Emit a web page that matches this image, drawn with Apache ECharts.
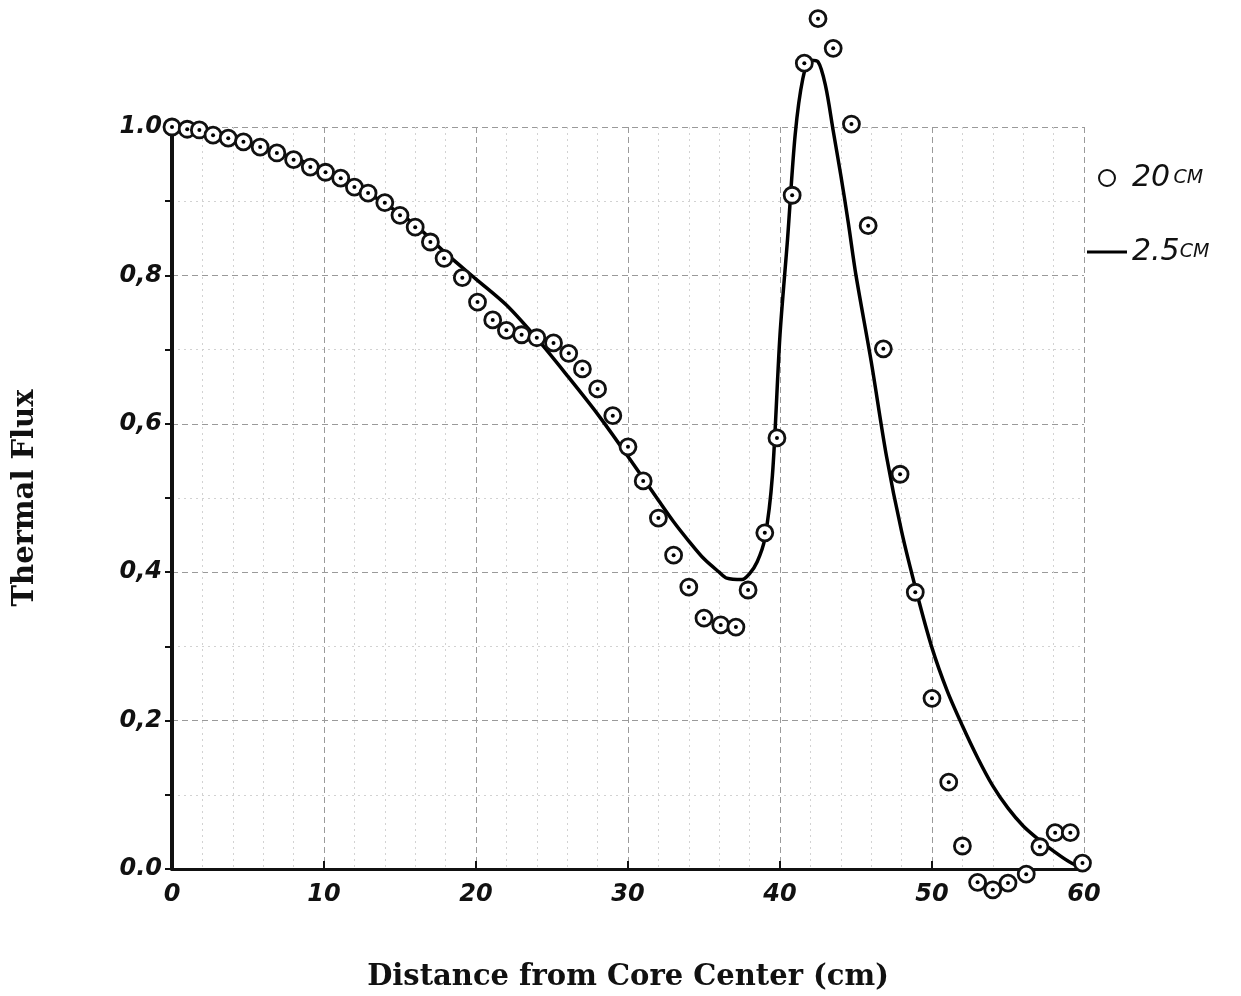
<!DOCTYPE html>
<html>
<head>
<meta charset="utf-8">
<script src="https://cdn.jsdelivr.net/npm/echarts@6/dist/echarts.min.js"></script>
<style>
  html, body { margin: 0; padding: 0; background: #fff; }
  #main { width: 1241px; height: 996px; }
</style>
</head>
<body>
<div id="main"></div>
<script>
// 20 cm mesh (circles)
var meshX20 = [0, 1, 1.8, 2.7, 3.7, 4.7, 5.8, 6.9, 8.0, 9.1, 10.1, 11.1, 12.0, 12.9, 14.0, 15.0, 16.0, 17.0, 17.9, 19.1,
  20.1, 21.1, 22.0, 23.0, 24.0, 25.1, 26.1, 27.0, 28.0, 29.0, 30.0, 31.0, 32.0, 33.0, 34.0, 35.0, 36.1, 37.1, 37.9, 39.0,
  39.8, 40.8, 41.6, 42.5, 43.5, 44.7, 45.8, 46.8, 47.9, 48.9, 50.0, 51.1, 52.0, 53.0, 54.0, 55.0, 56.2, 57.1, 58.1, 59.1, 59.9];
var fluxY20 = [1.0, 0.997, 0.996, 0.989, 0.985, 0.98, 0.973, 0.965, 0.956, 0.946, 0.939, 0.931, 0.919, 0.911, 0.898, 0.881, 0.865, 0.845, 0.823, 0.797,
  0.764, 0.740, 0.726, 0.720, 0.716, 0.709, 0.695, 0.674, 0.647, 0.611, 0.569, 0.523, 0.473, 0.423, 0.380, 0.338, 0.329, 0.326, 0.376, 0.453,
  0.581, 0.908, 1.086, 1.146, 1.106, 1.004, 0.867, 0.701, 0.532, 0.373, 0.230, 0.117, 0.031, -0.018, -0.028, -0.019, -0.007, 0.030, 0.049, 0.049, 0.008];

// 2.5 cm mesh (solid curve)
var meshX25 = [0, 2, 4, 6, 8, 10, 12, 14, 16, 18, 20, 22, 24, 26, 28, 30, 32, 33, 34, 35, 36, 36.5, 37.5, 38, 38.5, 39, 39.5,
  40, 40.5, 41, 41.5, 42, 42.5, 43, 43.5, 44, 44.5, 45, 46, 47, 48, 49, 50, 51, 52, 53, 54, 55, 56, 57, 58, 59, 60];
var fluxY25 = [1.0, 0.995, 0.985, 0.972, 0.958, 0.943, 0.922, 0.897, 0.868, 0.830, 0.795, 0.760, 0.715, 0.665, 0.613, 0.556, 0.497, 0.468, 0.442, 0.418, 0.400, 0.392, 0.390, 0.398, 0.414, 0.445, 0.53,
  0.72, 0.85, 0.99, 1.065, 1.09, 1.088, 1.055, 0.995, 0.935, 0.87, 0.80, 0.684, 0.557, 0.455, 0.372, 0.298, 0.240, 0.193, 0.150, 0.112, 0.082, 0.058, 0.040, 0.024, 0.010, 0.0];

var xTicks = [0, 10, 20, 30, 40, 50, 60];
var yTicks = ['0.0', '0,2', '0,4', '0,6', '0,8', '1.0'];

function pairs(xs, ys) {
  return xs.map(function (x, i) { return [x, ys[i]]; });
}

var chart = echarts.init(document.getElementById('main'));
var handFont = '"DejaVu Sans", sans-serif';
var titleFont = '"DejaVu Serif", serif';
var option = {
  backgroundColor: '#fff',
  animation: false,
  grid: { left: 172, right: 157, top: 127, bottom: 127, outerBoundsMode: 'none' },
  legend: {
    orient: 'vertical',
    left: 1082,
    top: 158,
    itemGap: 44,
    itemWidth: 40,
    itemHeight: 16,
    data: [
      { name: '20 cm', icon: 'circle', itemStyle: { color: '#fff', borderColor: '#111', borderWidth: 2 } },
      { name: '2.5 cm', icon: 'path://M0,7 L40,7 L40,10 L0,10 Z' }
    ],
    formatter: function (name) {
      return name === '20 cm' ? '{n|20} {u|CM}' : '{n|2.5}{u|CM}';
    },
    textStyle: {
      color: '#111',
      rich: {
        n: { fontFamily: handFont, fontStyle: 'italic', fontSize: 30, fontWeight: 300 },
        u: { fontFamily: handFont, fontStyle: 'italic', fontSize: 19, fontWeight: 300 }
      }
    }
  },
  xAxis: {
    type: 'value',
    min: 0,
    max: 60,
    interval: 10,
    name: 'Distance from Core Center (cm)',
    nameLocation: 'middle',
    nameGap: 94,
    nameTextStyle: { fontFamily: titleFont, fontWeight: 'bold', fontSize: 29, color: '#111' },
    axisLine: { show: true, lineStyle: { color: '#111', width: 3 } },
    axisTick: { show: true, inside: true, length: 8, lineStyle: { color: '#111', width: 2 } },
    axisLabel: {
      margin: 14,
      fontFamily: handFont, fontStyle: 'italic', fontWeight: 'bold', fontSize: 24, color: '#111',
      formatter: function (v) { return xTicks.indexOf(v) >= 0 ? String(v) : ''; }
    },
    splitLine: { show: true, lineStyle: { color: '#9a9a9a', type: [6, 4], width: 1 } },
    minorTick: { show: false, splitNumber: 5 },
    minorSplitLine: { show: true, lineStyle: { color: '#d2d2d2', type: [2, 4], width: 1 } }
  },
  yAxis: {
    type: 'value',
    min: 0,
    max: 1.0,
    interval: 0.2,
    name: 'Thermal Flux',
    nameLocation: 'middle',
    nameGap: 132,
    nameRotate: 90,
    nameTextStyle: { fontFamily: titleFont, fontWeight: 'bold', fontSize: 29, color: '#111' },
    axisLine: { show: true, lineStyle: { color: '#111', width: 4 } },
    axisTick: { show: true, length: 7, lineStyle: { color: '#111', width: 2 } },
    minorTick: { show: true, splitNumber: 2, length: 7, lineStyle: { color: '#111', width: 2 } },
    axisLabel: {
      margin: 10,
      fontFamily: handFont, fontStyle: 'italic', fontWeight: 'bold', fontSize: 24, color: '#111',
      formatter: function (v) { return yTicks[Math.round(v / 0.2)]; }
    },
    splitLine: { show: true, lineStyle: { color: '#9a9a9a', type: [6, 4], width: 1 } },
    minorSplitLine: { show: true, lineStyle: { color: '#d2d2d2', type: [2, 4], width: 1 } }
  },
  series: [
    {
      name: '2.5 cm',
      type: 'line',
      data: pairs(meshX25, fluxY25),
      smooth: 0.3,
      showSymbol: false,
      clip: false,
      lineStyle: { color: '#000', width: 3.5 },
      itemStyle: { color: '#000' },
      z: 3
    },
    {
      name: '20 cm',
      type: 'scatter',
      data: pairs(meshX20, fluxY20),
      symbol: 'circle',
      symbolSize: 16,
      clip: false,
      itemStyle: { color: '#fff', borderColor: '#111', borderWidth: 2.8, opacity: 1 },
      z: 4
    },
    {
      name: '20 cm dot',
      type: 'scatter',
      data: pairs(meshX20, fluxY20),
      symbol: 'circle',
      symbolSize: 4,
      clip: false,
      silent: true,
      itemStyle: { color: '#000', opacity: 1 },
      z: 5
    }
  ]
};
chart.setOption(option);
</script>
</body>
</html>
